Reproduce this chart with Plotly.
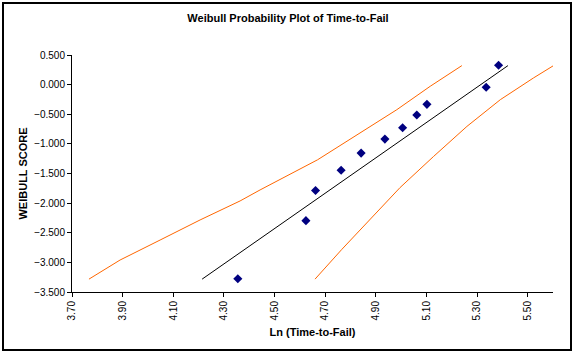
import plotly.graph_objects as go

# Data
ln_time = [4.355, 4.624, 4.662, 4.763, 4.842, 4.936, 5.006, 5.062, 5.102, 5.336, 5.385]
weibull_score = [-3.277, -2.296, -1.788, -1.444, -1.156, -0.919, -0.728, -0.513, -0.333, -0.045, 0.327]

fit_x = [4.214, 5.422]
fit_y = [-3.283, 0.321]

upper_x = [3.767, 3.890, 4.048, 4.206, 4.364, 4.443, 4.670, 4.720, 4.851, 4.983, 5.115, 5.240]
upper_y = [-3.283, -2.960, -2.623, -2.284, -1.963, -1.777, -1.269, -1.134, -0.773, -0.423, -0.028, 0.321]

lower_x = [4.660, 4.766, 4.996, 5.073, 5.128, 5.260, 5.392, 5.523, 5.602]
lower_y = [-3.283, -2.780, -1.737, -1.427, -1.213, -0.705, -0.254, 0.113, 0.321]

FONT = "Liberation Sans, Arial, sans-serif"
W, H = 576, 355
L, R, T, B = 72, 23, 55, 63

fig = go.Figure()
fig.add_trace(go.Scatter(x=upper_x, y=upper_y, mode="lines",
                         line=dict(color="#FF6600", width=1), showlegend=False))
fig.add_trace(go.Scatter(x=lower_x, y=lower_y, mode="lines",
                         line=dict(color="#FF6600", width=1), showlegend=False))
fig.add_trace(go.Scatter(x=fit_x, y=fit_y, mode="lines",
                         line=dict(color="black", width=1), showlegend=False))
fig.add_trace(go.Scatter(x=ln_time, y=weibull_score, mode="markers",
                         marker=dict(symbol="diamond", color="#000080", size=7),
                         showlegend=False))

# outer chart border (pixel positions converted to paper coords)
pw, ph = W - L - R, H - T - B
def px_x(p):
    return (p - L) / pw
def px_y(p):
    return (H - B - p) / ph

fig.add_shape(type="rect", xref="paper", yref="paper",
              x0=px_x(3), x1=px_x(571), y0=px_y(350), y1=px_y(3),
              line=dict(color="black", width=2), fillcolor="rgba(0,0,0,0)", layer="below")

fig.update_layout(
    width=W, height=H,
    margin=dict(l=L, r=R, t=T, b=B),
    paper_bgcolor="white", plot_bgcolor="white",
    font=dict(family=FONT, size=10, color="black"),
    title=dict(text="<b>Weibull Probability Plot of Time-to-Fail</b>",
               x=0.5, xanchor="center", xref="container",
               y=(H - 18) / H, yanchor="middle", yref="container",
               font=dict(family=FONT, size=11, color="black")),
    xaxis=dict(range=[3.7, 5.6], tick0=3.7, dtick=0.2, tickformat=".2f",
               tickangle=-90, showgrid=False, zeroline=False,
               showline=True, linecolor="black", linewidth=1,
               ticks="outside", ticklen=4, tickcolor="black", automargin=False,
               title=dict(text="<b>Ln (Time-to-Fail)</b>",
                          font=dict(family=FONT, size=11), standoff=8)),
    yaxis=dict(range=[-3.5, 0.5], dtick=0.5, tickformat=".3f",
               showgrid=False, zeroline=False,
               showline=True, linecolor="black", linewidth=1,
               ticks="outside", ticklen=4, tickcolor="black", automargin=False,
               title=dict(text="<b>WEIBULL SCORE</b>",
                          font=dict(family=FONT, size=11), standoff=4)),
)

fig.write_html("out.html", config={"displayModeBar": False},
               post_script="document.body.style.margin='0';document.body.style.overflow='hidden';")
